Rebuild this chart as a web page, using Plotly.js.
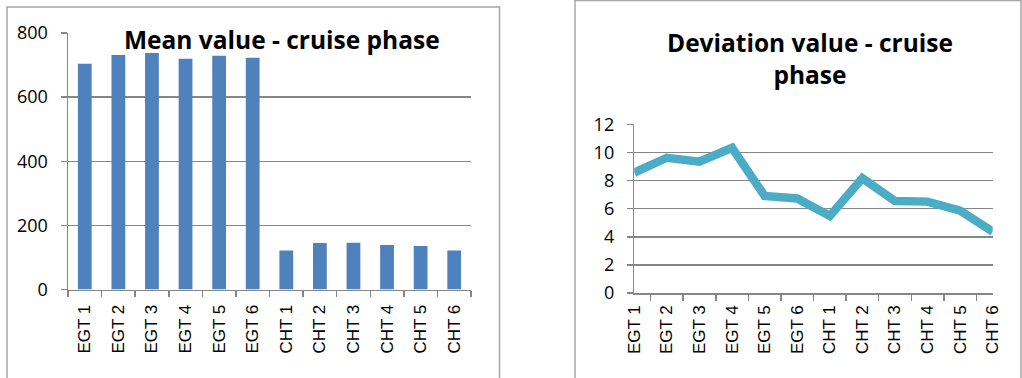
<!DOCTYPE html>
<html>
<head>
<meta charset="utf-8">
<script src="https://cdn.plot.ly/plotly-3.0.1.min.js"></script>
<style>
  html, body { margin: 0; padding: 0; background: #ffffff; }
  #chart { width: 1022px; height: 378px; }
</style>
</head>
<body>
<div id="chart"></div>
<script>
// Sensor channels: exhaust gas (EGT) and cylinder head (CHT) temperatures
const sensors = ["EGT 1", "EGT 2", "EGT 3", "EGT 4", "EGT 5", "EGT 6",
                 "CHT 1", "CHT 2", "CHT 3", "CHT 4", "CHT 5", "CHT 6"];

// Mean value per sensor during the cruise phase
const meanValues = [704, 731, 738, 720, 729, 723, 122, 145, 146, 139, 136, 122];

// Deviation per sensor during the cruise phase
const deviationValues = [8.56, 9.62, 9.34, 10.33, 6.9, 6.73, 5.48, 8.16, 6.54, 6.5, 5.86, 4.36];

const meanTicks = [0, 200, 400, 600, 800];
const deviationTicks = [0, 2, 4, 6, 8, 10, 12];

const W = 1022, H = 378;
const px = x => x / W;          // pixel column -> paper x
const py = y => (H - y) / H;    // pixel row -> paper y

const gridGrey = "#868686";
const frameGrey = "#a6a6a6";

function xAxis(domain, anchor, standoff) {
  return {
    domain: domain, anchor: anchor, type: "category",
    showgrid: false, zeroline: false,
    showline: true, linecolor: gridGrey, linewidth: 1.5,
    ticks: "outside", ticklen: 6, tickcolor: gridGrey, tickwidth: 1.5,
    tickson: "boundaries", tickangle: -90, ticklabelstandoff: standoff,
    tickfont: { family: "Liberation Sans", size: 17, color: "#000000" },
    fixedrange: true
  };
}

function yAxis(domain, anchor, range, ticks) {
  return {
    domain: domain, anchor: anchor, range: range,
    tickmode: "array", tickvals: ticks, ticktext: ticks.map(String),
    showgrid: true, gridcolor: gridGrey, gridwidth: 1.5, zeroline: false,
    showline: true, linecolor: gridGrey, linewidth: 1.5,
    ticks: "outside", ticklen: 6, tickcolor: gridGrey, tickwidth: 1.5,
    ticklabelstandoff: 9,
    tickfont: { family: "Open Sans", size: 18, color: "#000000" },
    fixedrange: true
  };
}

const data = [
  {
    type: "bar", x: sensors, y: meanValues, xaxis: "x", yaxis: "y",
    marker: { color: "#4f81bd" }, hoverinfo: "x+y", showlegend: false
  },
  {
    type: "scatter", mode: "lines", x: sensors, y: deviationValues, xaxis: "x2", yaxis: "y2",
    line: { color: "#4bacc6", width: 8.5, shape: "linear" }, hoverinfo: "x+y", showlegend: false
  }
];

const titleFont = { family: "Open Sans", size: 24.5, color: "#000000", weight: 700 };

const layout = {
  width: W, height: H, autosize: false,
  margin: { l: 0, r: 0, t: 0, b: 0 },
  paper_bgcolor: "#ffffff", plot_bgcolor: "rgba(0,0,0,0)",
  bargap: 0.59,
  xaxis: xAxis([px(68), px(471)], "y", 7),
  yaxis: yAxis([py(289.5), py(33)], "x", [0, 800], meanTicks),
  xaxis2: xAxis([px(634.3), px(992.7)], "y2", 4),
  yaxis2: yAxis([py(293), py(124.3)], "x2", [0, 12], deviationTicks),
  shapes: [
    // chart frames
    { type: "rect", xref: "paper", yref: "paper", x0: px(7), x1: px(499.5), y0: py(390), y1: py(7),
      line: { color: frameGrey, width: 1.5 }, fillcolor: "rgba(0,0,0,0)", layer: "below" },
    { type: "rect", xref: "paper", yref: "paper", x0: px(575), x1: px(1021), y0: py(390), y1: py(0.5),
      line: { color: frameGrey, width: 1.5 }, fillcolor: "rgba(0,0,0,0)", layer: "below" }
  ],
  annotations: [
    { text: "Mean value - cruise phase", xref: "paper", yref: "paper",
      x: px(281.7), y: py(39.5), xanchor: "center", yanchor: "middle",
      showarrow: false, font: titleFont },
    { text: "Deviation value - cruise<br>phase", xref: "paper", yref: "paper",
      x: px(809.7), y: py(59), xanchor: "center", yanchor: "middle", align: "center",
      showarrow: false, font: titleFont }
  ]
};

Plotly.newPlot("chart", data, layout, { displayModeBar: false, staticPlot: true });
</script>
</body>
</html>
